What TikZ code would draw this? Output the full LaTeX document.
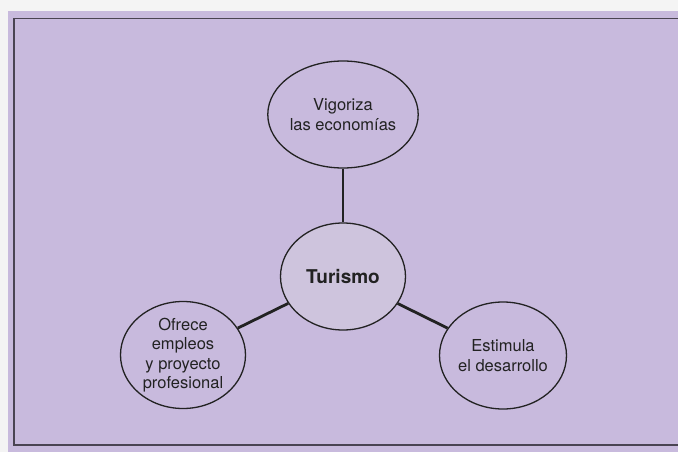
\documentclass[tikz,border=0pt]{standalone}
\usepackage{fontspec}
\setmainfont{TeX Gyre Heros}
\usetikzlibrary{shapes.geometric}
\definecolor{bgpurple}{HTML}{C8BADD}
\definecolor{centerfill}{HTML}{CEC4DD}
\definecolor{framegray}{HTML}{4A4452}
\definecolor{outside}{HTML}{F4F4F4}
\definecolor{ink}{HTML}{222222}
\tikzset{
  bubble/.style={ellipse, draw=ink, line width=1.3pt, minimum width=125pt, minimum height=107pt,
    inner sep=0pt, align=center, font=\fontsize{16.5}{19.5}\selectfont, text=ink},
  hub/.style={bubble, fill=centerfill, font=\fontsize{19}{20}\selectfont\bfseries},
  link/.style={draw=ink, line width=2.8pt},
  frame/.style={draw=framegray, line width=1.8pt}
}
\begin{document}
\begin{tikzpicture}[x=1pt,y=-1pt]
\useasboundingbox (0,0) rectangle (678,452);
\fill[outside] (0,0) rectangle (678,452);
\fill[bgpurple] (8,11) rectangle (678,452);
\coordinate (f1) at (680,18.5);
\coordinate (f2) at (14,18.5);
\coordinate (f3) at (14,445);
\coordinate (f4) at (680,445);
\draw[frame] (f1) -- (f2) -- (f3) -- (f4);
\node[bubble] (top) at (343,114.5) {Vigoriza\\las economías};
\node[hub] (tur) at (343,276.5) {Turismo};
\node[bubble] (left) at (183,355) {Ofrece\\empleos\\y proyecto\\profesional};
\node[bubble] (right) at (503,355.5) {Estimula\\el desarrollo};
\draw[link] (top) -- (tur);
\draw[link] (tur) -- (left);
\draw[link] (tur) -- (right);
\end{tikzpicture}
\end{document}
